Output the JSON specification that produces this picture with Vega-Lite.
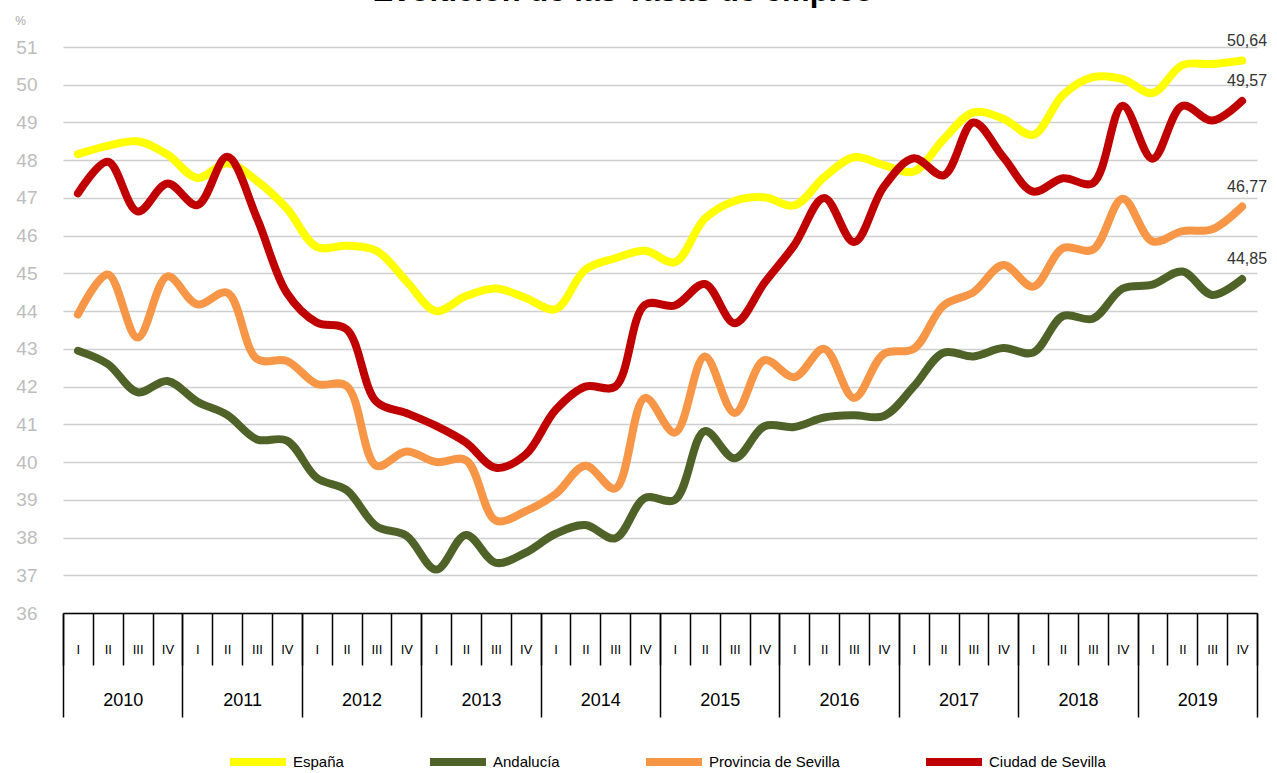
{
  "$schema": "https://vega.github.io/schema/vega-lite/v6.json",
  "width": 1194,
  "height": 566,
  "autosize": {"type": "none"},
  "padding": {"left": 63, "top": 47, "right": 20, "bottom": 160},
  "background": "white",
  "config": {
    "view": {"stroke": null},
    "font": "Liberation Sans",
    "locale": {"number": {"decimal": ",", "thousands": ".", "grouping": [3], "currency": ["", " €"]}}
  },
  "title": {
    "text": "Evolución de las Tasas de empleo",
    "fontSize": 31,
    "fontWeight": "bold",
    "color": "black",
    "anchor": "middle",
    "baseline": "alphabetic",
    "offset": 3,
    "dy": 21,
    "dx": -37
  },
  "data": {
    "values": [
      {"t": "2010-I", "year": "2010", "España": 48.16, "Andalucía": 42.95, "Provincia de Sevilla": 43.91, "Ciudad de Sevilla": 47.12},
      {"t": "2010-II", "year": "2010", "España": 48.38, "Andalucía": 42.6, "Provincia de Sevilla": 44.97, "Ciudad de Sevilla": 47.96},
      {"t": "2010-III", "year": "2010", "España": 48.5, "Andalucía": 41.85, "Provincia de Sevilla": 43.3, "Ciudad de Sevilla": 46.64},
      {"t": "2010-IV", "year": "2010", "España": 48.15, "Andalucía": 42.15, "Provincia de Sevilla": 44.92, "Ciudad de Sevilla": 47.38},
      {"t": "2011-I", "year": "2011", "España": 47.53, "Andalucía": 41.6, "Provincia de Sevilla": 44.18, "Ciudad de Sevilla": 46.81},
      {"t": "2011-II", "year": "2011", "España": 47.92, "Andalucía": 41.25, "Provincia de Sevilla": 44.49, "Ciudad de Sevilla": 48.09},
      {"t": "2011-III", "year": "2011", "España": 47.45, "Andalucía": 40.6, "Provincia de Sevilla": 42.73, "Ciudad de Sevilla": 46.46},
      {"t": "2011-IV", "year": "2011", "España": 46.72, "Andalucía": 40.57, "Provincia de Sevilla": 42.68, "Ciudad de Sevilla": 44.48},
      {"t": "2012-I", "year": "2012", "España": 45.7, "Andalucía": 39.58, "Provincia de Sevilla": 42.07, "Ciudad de Sevilla": 43.7},
      {"t": "2012-II", "year": "2012", "España": 45.73, "Andalucía": 39.26, "Provincia de Sevilla": 42.02, "Ciudad de Sevilla": 43.52},
      {"t": "2012-III", "year": "2012", "España": 45.6, "Andalucía": 38.3, "Provincia de Sevilla": 39.9, "Ciudad de Sevilla": 41.6},
      {"t": "2012-IV", "year": "2012", "España": 44.8, "Andalucía": 38.05, "Provincia de Sevilla": 40.28, "Ciudad de Sevilla": 41.3},
      {"t": "2013-I", "year": "2013", "España": 44.0, "Andalucía": 37.15, "Provincia de Sevilla": 40.0, "Ciudad de Sevilla": 40.96},
      {"t": "2013-II", "year": "2013", "España": 44.4, "Andalucía": 38.07, "Provincia de Sevilla": 40.05, "Ciudad de Sevilla": 40.52},
      {"t": "2013-III", "year": "2013", "España": 44.6, "Andalucía": 37.33, "Provincia de Sevilla": 38.45, "Ciudad de Sevilla": 39.85},
      {"t": "2013-IV", "year": "2013", "España": 44.35, "Andalucía": 37.6, "Provincia de Sevilla": 38.7, "Ciudad de Sevilla": 40.2},
      {"t": "2014-I", "year": "2014", "España": 44.05, "Andalucía": 38.1, "Provincia de Sevilla": 39.15, "Ciudad de Sevilla": 41.38},
      {"t": "2014-II", "year": "2014", "España": 45.1, "Andalucía": 38.33, "Provincia de Sevilla": 39.9, "Ciudad de Sevilla": 42.0},
      {"t": "2014-III", "year": "2014", "España": 45.4, "Andalucía": 37.98, "Provincia de Sevilla": 39.3, "Ciudad de Sevilla": 42.0},
      {"t": "2014-IV", "year": "2014", "España": 45.6, "Andalucía": 39.05, "Provincia de Sevilla": 41.7, "Ciudad de Sevilla": 44.17},
      {"t": "2015-I", "year": "2015", "España": 45.3, "Andalucía": 39.0, "Provincia de Sevilla": 40.78, "Ciudad de Sevilla": 44.15},
      {"t": "2015-II", "year": "2015", "España": 46.45, "Andalucía": 40.82, "Provincia de Sevilla": 42.8, "Ciudad de Sevilla": 44.72},
      {"t": "2015-III", "year": "2015", "España": 46.92, "Andalucía": 40.1, "Provincia de Sevilla": 41.3, "Ciudad de Sevilla": 43.68},
      {"t": "2015-IV", "year": "2015", "España": 47.02, "Andalucía": 40.95, "Provincia de Sevilla": 42.7, "Ciudad de Sevilla": 44.75},
      {"t": "2016-I", "year": "2016", "España": 46.8, "Andalucía": 40.93, "Provincia de Sevilla": 42.25, "Ciudad de Sevilla": 45.75},
      {"t": "2016-II", "year": "2016", "España": 47.55, "Andalucía": 41.18, "Provincia de Sevilla": 43.0, "Ciudad de Sevilla": 47.0},
      {"t": "2016-III", "year": "2016", "España": 48.08, "Andalucía": 41.24, "Provincia de Sevilla": 41.7, "Ciudad de Sevilla": 45.83},
      {"t": "2016-IV", "year": "2016", "España": 47.87, "Andalucía": 41.22, "Provincia de Sevilla": 42.87, "Ciudad de Sevilla": 47.3},
      {"t": "2017-I", "year": "2017", "España": 47.7, "Andalucía": 42.0, "Provincia de Sevilla": 43.0, "Ciudad de Sevilla": 48.05},
      {"t": "2017-II", "year": "2017", "España": 48.55, "Andalucía": 42.9, "Provincia de Sevilla": 44.15, "Ciudad de Sevilla": 47.6},
      {"t": "2017-III", "year": "2017", "España": 49.27, "Andalucía": 42.8, "Provincia de Sevilla": 44.5, "Ciudad de Sevilla": 49.0},
      {"t": "2017-IV", "year": "2017", "España": 49.1, "Andalucía": 43.02, "Provincia de Sevilla": 45.22, "Ciudad de Sevilla": 48.08},
      {"t": "2018-I", "year": "2018", "España": 48.67, "Andalucía": 42.9, "Provincia de Sevilla": 44.65, "Ciudad de Sevilla": 47.17},
      {"t": "2018-II", "year": "2018", "España": 49.73, "Andalucía": 43.87, "Provincia de Sevilla": 45.67, "Ciudad de Sevilla": 47.52},
      {"t": "2018-III", "year": "2018", "España": 50.2, "Andalucía": 43.8, "Provincia de Sevilla": 45.63, "Ciudad de Sevilla": 47.39},
      {"t": "2018-IV", "year": "2018", "España": 50.15, "Andalucía": 44.6, "Provincia de Sevilla": 46.98, "Ciudad de Sevilla": 49.44},
      {"t": "2019-I", "year": "2019", "España": 49.78, "Andalucía": 44.7, "Provincia de Sevilla": 45.85, "Ciudad de Sevilla": 48.04},
      {"t": "2019-II", "year": "2019", "España": 50.52, "Andalucía": 45.05, "Provincia de Sevilla": 46.12, "Ciudad de Sevilla": 49.44},
      {"t": "2019-III", "year": "2019", "España": 50.55, "Andalucía": 44.43, "Provincia de Sevilla": 46.17, "Ciudad de Sevilla": 49.05},
      {"t": "2019-IV", "year": "2019", "España": 50.64, "Andalucía": 44.85, "Provincia de Sevilla": 46.77, "Ciudad de Sevilla": 49.57}
    ]
  },
  "transform": [
    {"fold": ["España", "Andalucía", "Provincia de Sevilla", "Ciudad de Sevilla"], "as": ["serie", "value"]}
  ],
  "encoding": {
    "y": {
      "field": "value", "type": "quantitative",
      "scale": {"domain": [36, 51], "zero": false, "nice": false},
      "axis": {
        "values": [36, 37, 38, 39, 40, 41, 42, 43, 44, 45, 46, 47, 48, 49, 50, 51],
        "labelOverlap": false,
        "grid": true, "gridColor": "#cfcfcf", "gridWidth": 1.5,
        "domain": false, "ticks": false,
        "labelColor": "#bdbdbd", "labelFontSize": 19, "labelPadding": 26,
        "title": "%", "titleAngle": 0, "titleX": -43, "titleY": -27,
        "titleFontSize": 12, "titleFontWeight": "normal", "titleColor": "#a8a8a8",
        "titleAlign": "center", "titleBaseline": "middle"
      }
    }
  },
  "layer": [
    {
      "encoding": {
        "x": {
          "field": "t", "type": "nominal", "sort": null,
          "scale": {"type": "band", "paddingInner": 0, "paddingOuter": 0},
          "axis": {
            "orient": "bottom", "title": null, "grid": false,
            "domain": true, "domainColor": "black", "domainWidth": 1.5,
            "ticks": true, "tickBand": "extent", "tickSize": 52, "tickColor": "black", "tickWidth": 1.5,
            "labelExpr": "split(datum.value, '-')[1]",
            "labelAngle": 0, "labelFontSize": 13, "labelColor": "black", "labelPadding": -22
          }
        }
      },
      "layer": [
        {
          "mark": {"type": "line", "strokeWidth": 8, "interpolate": "catmull-rom", "strokeCap": "round", "strokeJoin": "round"},
          "encoding": {
            "color": {
              "field": "serie", "type": "nominal",
              "scale": {
                "domain": ["España", "Andalucía", "Provincia de Sevilla", "Ciudad de Sevilla"],
                "range": ["#ffff00", "#4f6228", "#f79646", "#c00000"]
              },
              "legend": {
                "orient": "none", "legendX": 163, "legendY": 683,
                "direction": "horizontal", "columns": 4, "title": null,
                "symbolType": "stroke", "symbolSize": 3136, "symbolStrokeWidth": 8,
                "labelFontSize": 15, "labelColor": "black", "labelOffset": 3,
                "columnPadding": 70
              }
            }
          }
        },
        {
          "transform": [{"filter": "datum.t == '2019-IV'"}],
          "mark": {"type": "text", "dy": -20, "dx": 5, "fontSize": 16, "color": "#333333", "baseline": "middle", "align": "center"},
          "encoding": {
            "text": {"field": "value", "type": "quantitative", "format": ".2f"}
          }
        }
      ]
    },
    {
      "mark": {"type": "point", "opacity": 0},
      "encoding": {
        "x": {
          "field": "year", "type": "nominal", "sort": null,
          "scale": {"type": "band", "paddingInner": 0, "paddingOuter": 0},
          "axis": {
            "orient": "bottom", "title": null, "grid": false, "domain": false,
            "ticks": true, "tickBand": "extent", "tickSize": 104, "tickColor": "black", "tickWidth": 1.5,
            "labelAngle": 0, "labelFontSize": 18, "labelColor": "black", "labelPadding": -26
          }
        }
      }
    }
  ],
  "resolve": {"scale": {"x": "independent"}, "axis": {"x": "independent"}}
}
